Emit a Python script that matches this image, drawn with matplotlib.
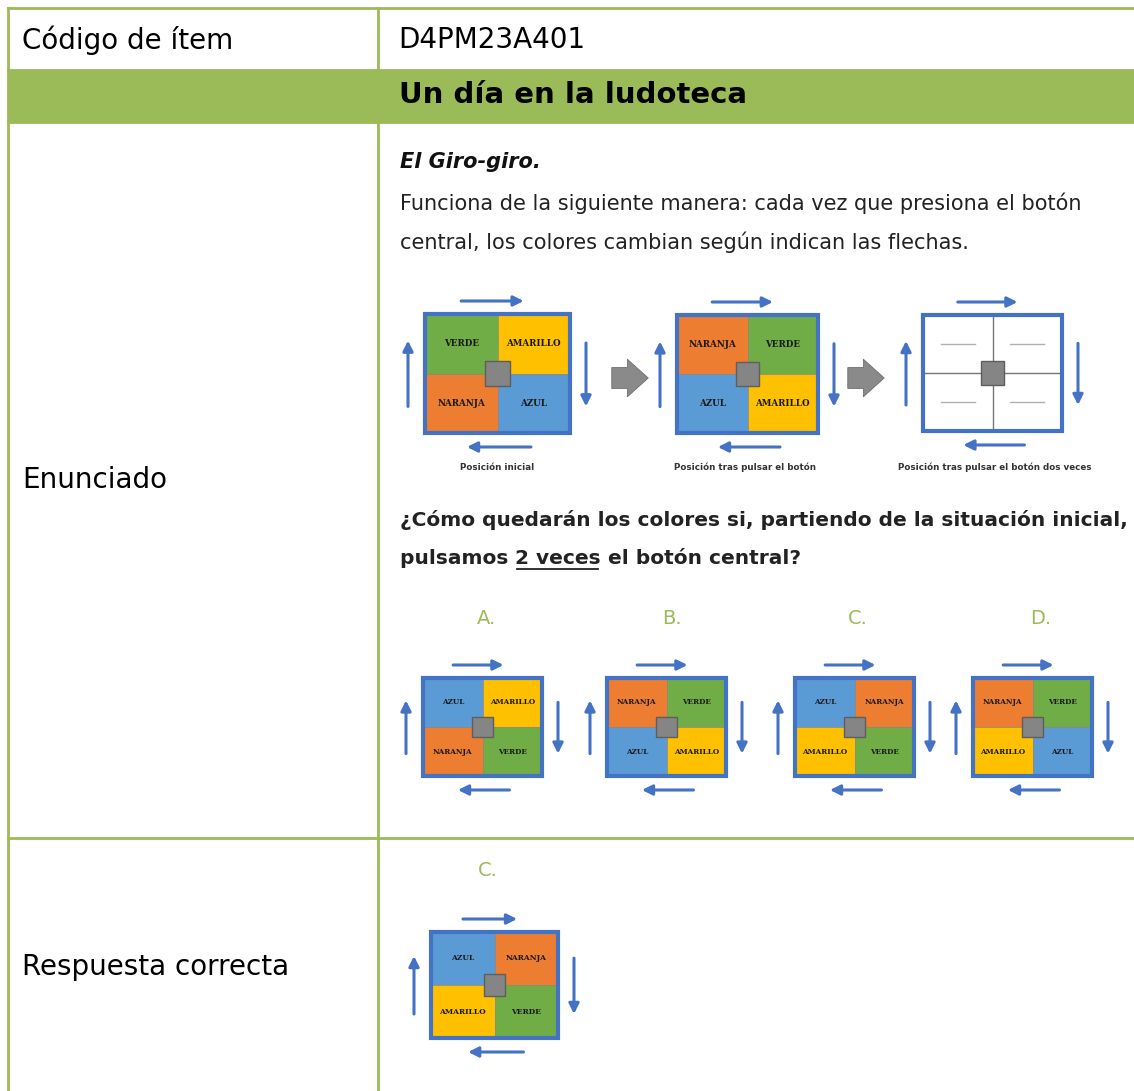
import matplotlib
matplotlib.use("Agg")
import matplotlib.pyplot as plt
from matplotlib.patches import Rectangle, FancyArrowPatch

# --- content ---
item_code = "D4PM23A401"
title = "Un día en la ludoteca"
row_labels = ["Código de ítem", "Enunciado", "Respuesta correcta"]
intro_lines = ["Funciona de la siguiente manera: cada vez que presiona el botón",
               "central, los colores cambian según indican las flechas."]
question_1 = "¿Cómo quedarán los colores si, partiendo de la situación inicial,"
question_2 = ["pulsamos ", "2 veces", " el botón central?"]
captions = ["Posición inicial", "Posición tras pulsar el botón",
            "Posición tras pulsar el botón dos veces"]
# quadrants: top-left, top-right, bottom-left, bottom-right
state_initial = ["VERDE", "AMARILLO", "NARANJA", "AZUL"]
state_one = ["NARANJA", "VERDE", "AZUL", "AMARILLO"]
option_names = ["A.", "B.", "C.", "D."]
options = [["AZUL", "AMARILLO", "NARANJA", "VERDE"],
           ["NARANJA", "VERDE", "AZUL", "AMARILLO"],
           ["AZUL", "NARANJA", "AMARILLO", "VERDE"],
           ["NARANJA", "VERDE", "AMARILLO", "AZUL"]]
answer = "C."

colors = {"VERDE": "#70AD47", "AMARILLO": "#FFC000",
          "NARANJA": "#ED7D31", "AZUL": "#5B9BD5"}
GREEN = "#9BBB59"
BLUE = "#4472C4"
FONT = "DejaVu Sans"

fig = plt.figure(figsize=(11.34, 10.91), dpi=100)
ax = fig.add_axes([0, 0, 1, 1])
ax.set_xlim(0, 1134)
ax.set_ylim(1091, 0)
ax.axis("off")
renderer = fig.canvas.get_renderer()

# table
ax.add_patch(Rectangle((8, 70), 1130, 52, color=GREEN, zorder=1))
for y in [8, 70, 122, 838]:
    ax.plot([8, 1134], [y, y], color=GREEN, lw=2, zorder=2)
ax.plot([8, 8], [8, 1091], color=GREEN, lw=2, zorder=2)
ax.plot([378, 378], [8, 70], color=GREEN, lw=2, zorder=2)
ax.plot([378, 378], [122, 1091], color=GREEN, lw=2, zorder=2)

ax.text(22, 40, row_labels[0], fontsize=20, family=FONT, va="center")
ax.text(398, 40, item_code, fontsize=20, family=FONT, va="center")
ax.text(573, 95, title, fontsize=21, family=FONT, weight="bold", va="center", ha="center")
ax.text(22, 480, row_labels[1], fontsize=20, family=FONT, va="center")
ax.text(22, 967, row_labels[2], fontsize=20, family=FONT, va="center")


def chain(x, y, parts, **kw):
    # draws text pieces one after another, returns the artists
    arts = []
    for txt, extra in parts:
        t = ax.text(x, y, txt, va="center", family=FONT, **kw, **extra)
        bb = t.get_window_extent(renderer)
        arts.append((t, x, x + bb.width))
        x += bb.width
    return arts


ax.text(400, 162, "El Giro-giro.", fontsize=15, family=FONT, weight="bold",
        style="italic", va="center", color="#111111")
ax.text(400, 203, intro_lines[0], fontsize=15, family=FONT, va="center", color="#222222")
ax.text(400, 242, intro_lines[1], fontsize=15, family=FONT, va="center", color="#222222")

ax.text(400, 520, question_1, fontsize=14.5, family=FONT, weight="bold", va="center", color="#222222")
arts = chain(400, 559, [(question_2[0], {}), (question_2[1], {}), (question_2[2], {})],
             fontsize=14.5, weight="bold", color="#222222")
_, ux0, ux1 = arts[1]
ax.plot([ux0 + 2, ux1 - 3], [569, 569], color="#222222", lw=1.3)


def draw_giro(x0, y0, w, h, labels, fs=6.5, empty=False):
    hw, hh = w / 2, h / 2
    if empty:
        ax.add_patch(Rectangle((x0, y0), w, h, facecolor="white", edgecolor="none", zorder=3))
        ax.plot([x0 + hw, x0 + hw], [y0, y0 + h], color="#777777", lw=1, zorder=4)
        ax.plot([x0, x0 + w], [y0 + hh, y0 + hh], color="#777777", lw=1, zorder=4)
        for cx in [x0 + hw / 2, x0 + hw * 1.5]:
            for cy in [y0 + hh / 2, y0 + hh * 1.5]:
                ax.plot([cx - 17, cx + 17], [cy, cy], color="#b0b0b0", lw=1, zorder=4)
    else:
        cells = [(x0, y0), (x0 + hw, y0), (x0, y0 + hh), (x0 + hw, y0 + hh)]
        for (cx, cy), lab in zip(cells, labels):
            ax.add_patch(Rectangle((cx, cy), hw, hh, facecolor=colors[lab],
                                   edgecolor="#7f7f7f", lw=0.4, zorder=3))
            ax.text(cx + hw / 2, cy + hh / 2, lab, fontsize=fs, family="DejaVu Serif",
                    weight="bold", ha="center", va="center", color="#1a1a1a", zorder=5)
    ax.add_patch(Rectangle((x0, y0), w, h, facecolor="none", edgecolor=BLUE, lw=3, zorder=6))
    s = w * 0.17
    ax.add_patch(Rectangle((x0 + hw - s / 2, y0 + hh - s / 2), s, s, facecolor="#858585",
                           edgecolor="#5e5e5e", lw=1, zorder=7))
    # arrows around
    akw = dict(arrowstyle="-|>,head_length=0.5,head_width=0.25", color=BLUE, lw=2.2,
               mutation_scale=12, zorder=5)
    ax.add_patch(FancyArrowPatch((x0 + w * 0.23, y0 - 13), (x0 + w * 0.7, y0 - 13), **akw))
    ax.add_patch(FancyArrowPatch((x0 + w * 0.75, y0 + h + 14), (x0 + w * 0.27, y0 + h + 14), **akw))
    ax.add_patch(FancyArrowPatch((x0 - 17, y0 + h * 0.8), (x0 - 17, y0 + h * 0.2), **akw))
    ax.add_patch(FancyArrowPatch((x0 + w + 16, y0 + h * 0.22), (x0 + w + 16, y0 + h * 0.8), **akw))


def grey_arrow(x, y):
    ax.add_patch(FancyArrowPatch((x, y), (x + 42, y),
                                 arrowstyle="simple,head_length=0.5,head_width=0.9,tail_width=0.5",
                                 mutation_scale=30, facecolor="#8a8a8a", edgecolor="#6f6f6f",
                                 lw=0.6, zorder=5))


draw_giro(425, 314, 145, 119, state_initial, fs=6.3)
draw_giro(677, 315, 141, 118, state_one, fs=6.3)
draw_giro(923, 315, 139, 116, None, empty=True)
grey_arrow(609, 378)
grey_arrow(845, 378)
for cx, cap in zip([497, 745, 995], captions):
    ax.text(cx, 467, cap, fontsize=6.3, family=FONT, weight="bold", ha="center",
            va="center", color="#333333")

opt_x = [423, 607, 795, 973]
lab_x = [486, 672, 858, 1041]
for ox, lx, name, labs in zip(opt_x, lab_x, option_names, options):
    ax.text(lx, 618, name, fontsize=14, family=FONT, ha="center", va="center", color=GREEN)
    draw_giro(ox, 678, 119, 98, labs, fs=5.2)

ax.text(488, 870, answer, fontsize=14, family=FONT, ha="center", va="center", color=GREEN)
draw_giro(431, 932, 127, 106, options[option_names.index(answer)], fs=5.4)

fig.savefig("out.png", dpi=100)
